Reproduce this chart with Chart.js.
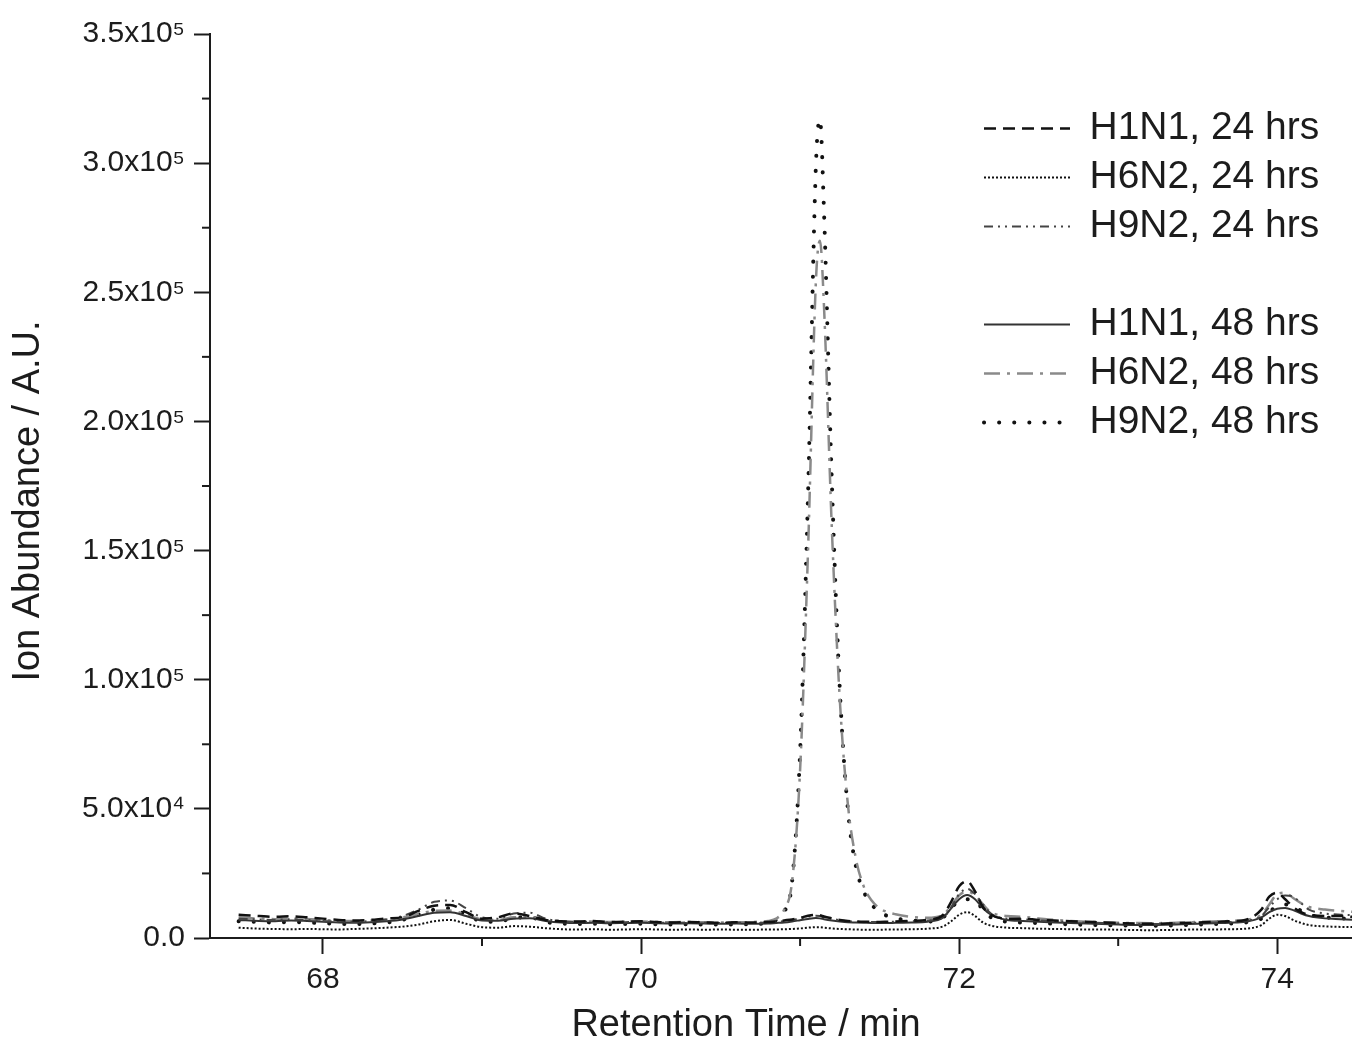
<!DOCTYPE html>
<html>
<head>
<meta charset="utf-8">
<script src="https://cdn.jsdelivr.net/npm/chart.js@4/dist/chart.umd.min.js"></script>
<style>
html,body{margin:0;padding:0;background:#fff;overflow:hidden}
#wrap{width:1352px;height:1046px;position:relative}
</style>
</head>
<body>
<div id="wrap"><canvas id="c" width="1352" height="1046"></canvas></div>
<script>
// Retention time (min)
const retentionTime = [
  67.47,67.6,67.7,67.8,67.9,68.0,68.1,68.2,68.3,68.4,
  68.5,68.6,68.7,68.8,68.9,69.0,69.1,69.2,69.3,69.4,
  69.5,69.6,69.7,69.8,69.9,70.0,70.1,70.2,70.3,70.4,
  70.5,70.6,70.7,70.8,70.85,70.9,70.95,71.0,71.05,71.1,
  71.125,71.15,71.2,71.25,71.3,71.35,71.4,71.45,71.5,71.55,
  71.6,71.7,71.8,71.9,71.95,72.0,72.05,72.1,72.15,72.2,
  72.3,72.4,72.5,72.6,72.7,72.8,72.9,73.0,73.1,73.2,
  73.3,73.4,73.5,73.6,73.7,73.8,73.9,73.95,74.0,74.05,
  74.1,74.15,74.2,74.3,74.4,74.5
];
const h1n1_24 = [
  9000,8500,8200,8400,8000,7500,7000,6800,7000,7600,
  8000,10500,12500,12800,10000,7500,8000,9500,8500,7000,
  6500,6400,6600,6200,6300,6500,6200,6000,6200,6000,
  5900,6100,6000,6200,6400,6800,7200,7800,8600,9000,
  8800,8300,7600,7000,6600,6400,6300,6300,6200,6300,
  6400,6600,7000,9000,14000,20000,22000,18000,12000,9000,
  7500,7500,7000,6800,6500,6300,6000,5800,5600,5500,
  5600,5800,6000,6200,6500,7000,11000,16000,17500,15000,
  12000,10000,9000,8500,8500,8000
];
const h6n2_24 = [
  4000,3600,3500,3400,3500,3400,3300,3500,3700,4000,
  4400,5200,6500,7000,5500,4200,4000,4600,4400,3800,
  3400,3300,3400,3200,3300,3400,3300,3200,3300,3200,
  3300,3200,3200,3300,3300,3400,3500,3700,4000,4200,
  4200,4000,3700,3500,3400,3300,3200,3200,3200,3300,
  3300,3400,3600,4500,6500,9000,10000,8500,6000,4800,
  4000,3800,3600,3500,3400,3300,3300,3200,3100,3000,
  3100,3200,3300,3300,3400,3600,5000,7500,9000,8500,
  7000,5800,5000,4500,4300,4200
];
const h9n2_24 = [
  7500,7200,7000,7300,7000,6600,6400,6300,6600,7200,
  8500,11000,14000,14500,11500,8000,7500,9500,9800,7500,
  6500,6200,6400,6000,6100,6300,6000,5800,6000,5900,
  5800,5900,5800,6000,6200,6500,7000,7500,8200,8600,
  8500,8000,7400,6900,6500,6300,6200,6200,6100,6200,
  6300,6500,6800,8000,12000,17000,19000,17000,13000,9500,
  7500,7200,6800,6500,6200,6000,5800,5600,5500,5400,
  5500,5700,5900,6000,6200,6600,8500,12000,15000,16500,
  16000,13500,11000,9500,9000,8800
];
const h1n1_48 = [
  7000,6600,6500,6800,6600,6300,6000,5900,6100,6500,
  7200,8500,9800,10000,8500,6800,6700,7500,7600,6600,
  6000,5800,5900,5700,5800,5900,5700,5600,5700,5600,
  5500,5600,5500,5600,5800,6000,6400,6900,7400,7700,
  7600,7300,6800,6400,6100,6000,5900,5800,5800,5800,
  5900,6000,6300,8000,11500,15000,16600,15000,11500,9000,
  7000,6600,6300,6000,5800,5600,5400,5200,5000,5000,
  5100,5300,5500,5700,5900,6300,8000,10000,11300,11600,
  10800,9500,8500,7600,7300,7000
];
const h6n2_48 = [
  8000,7500,7300,7600,7400,7000,6700,6600,6800,7200,
  8000,9300,10500,10600,9000,7200,7000,8000,8000,7000,
  6500,6300,6400,6200,6300,6400,6200,6100,6200,6100,
  6000,6100,6200,6600,7500,11000,22000,65000,150000,255000,
  270000,245000,158000,92000,52000,31000,20000,14500,11500,10000,
  9200,8200,7800,9000,12500,16500,18000,16500,13000,10000,
  8500,8200,7600,7000,6600,6300,6100,5900,5800,5700,
  5800,6000,6200,6400,6600,7000,9000,13000,17000,17500,
  15500,13500,12000,11000,10500,10000
];
const h9n2_48 = [
  6500,6200,6000,6200,6000,5700,5500,5400,5600,6000,
  7000,9000,11000,11500,9000,6500,6300,7800,8000,6200,
  5600,5400,5500,5300,5400,5500,5300,5200,5300,5200,
  5200,5300,5400,5800,7000,10000,22000,72000,172000,300000,
  317000,282000,176000,96000,50000,28000,18000,13000,10000,8500,
  7600,6800,6400,8000,11500,14500,15000,14500,11000,8000,
  6300,6000,5800,5500,5300,5100,5000,4900,4800,4700,
  4800,5000,5200,5400,5600,6000,7500,10000,12500,13000,
  12500,10500,9000,8000,7600,7300
];
const seriesLabels = ['H1N1, 24 hrs','H6N2, 24 hrs','H9N2, 24 hrs','H1N1, 48 hrs','H6N2, 48 hrs','H9N2, 48 hrs'];
const yTickValues = [0,50000,100000,150000,200000,250000,300000,350000];
const yTickLabels = ['0.0','5.0x10\u2074','1.0x10\u2075','1.5x10\u2075','2.0x10\u2075','2.5x10\u2075','3.0x10\u2075','3.5x10\u2075'];
const xTickValues = [68,70,72,74];
const xTickLabels = ['68','70','72','74'];
const xTitle = 'Retention Time / min';
const yTitle = 'Ion Abundance / A.U.';

const FONT = "'Liberation Sans', Arial, sans-serif";
const INK = '#1c1c1c';

const seriesValues = [h1n1_24, h6n2_24, h9n2_24, h1n1_48, h6n2_48, h9n2_48];
const seriesStyles = [
  {borderColor:'#111', borderWidth:2.5, borderDash:[12,7], borderCapStyle:'butt'},
  {borderColor:'#111', borderWidth:2, borderDash:[2,2], borderCapStyle:'butt'},
  {borderColor:'#444', borderWidth:2, borderDash:[9,5,2,5,2,5], borderCapStyle:'butt'},
  {borderColor:'#333', borderWidth:2, borderDash:[], borderCapStyle:'butt'},
  {borderColor:'#8a8a8a', borderWidth:2.5, borderDash:[16,7,3,7], borderCapStyle:'butt'},
  {borderColor:'#111', borderWidth:4, borderDash:[0.1,15], borderCapStyle:'round'}
];

const datasets = seriesValues.map((vals, s) => Object.assign({
  label: seriesLabels[s],
  data: retentionTime.map((t, i) => ({x: t, y: vals[i]})),
  pointRadius: 0,
  fill: false,
  cubicInterpolationMode: 'monotone',
  backgroundColor: 'rgba(0,0,0,0)'
}, seriesStyles[s]));

const minorTicks = {
  id: 'minorTicks',
  afterDraw(chart) {
    const {ctx, scales: {x, y}} = chart;
    ctx.save();
    ctx.strokeStyle = INK; ctx.lineWidth = 2; ctx.setLineDash([]);
    x.ticks.forEach(t => {
      if (!xTickValues.includes(t.value)) {
        const px = x.getPixelForValue(t.value);
        ctx.beginPath(); ctx.moveTo(px, x.top); ctx.lineTo(px, x.top + 8); ctx.stroke();
      }
    });
    y.ticks.forEach(t => {
      if (!yTickValues.includes(t.value)) {
        const py = y.getPixelForValue(t.value);
        ctx.beginPath(); ctx.moveTo(y.right, py); ctx.lineTo(y.right - 8, py); ctx.stroke();
      }
    });
    ctx.restore();
  }
};

const axisTitles = {
  id: 'axisTitles',
  afterDraw(chart) {
    const {ctx, chartArea} = chart;
    ctx.save();
    ctx.fillStyle = INK;
    ctx.font = '38px ' + FONT;
    ctx.textAlign = 'center';
    ctx.textBaseline = 'middle';
    ctx.fillText(xTitle, chartArea.left + 536, 1026);
    ctx.translate(29, chartArea.top + 467);
    ctx.rotate(-Math.PI / 2);
    ctx.fillText(yTitle, 0, 0);
    ctx.restore();
  }
};

const legendPlace = {
  id: 'legendPlace',
  afterLayout(chart) {
    const lg = chart.legend;
    if (!lg) return;
    const w = lg.width;
    lg.left = 974; lg.top = 99;
    lg.right = lg.left + w; lg.bottom = chart.chartArea.bottom;
  }
};

new Chart(document.getElementById('c'), {
  type: 'line',
  data: {datasets},
  plugins: [legendPlace, minorTicks, axisTitles],
  options: {
    responsive: false,
    animation: false,
    devicePixelRatio: 1,
    layout: {padding: {top: 34, right: 0, left: 0, bottom: 0}},
    plugins: {
      tooltip: {enabled: false},
      legend: {
        position: 'chartArea',
        align: 'start',
        labels: {
          usePointStyle: true,
          pointStyle: 'line',
          pointStyleWidth: 86,
          padding: 10,
          color: INK,
          font: {family: FONT, size: 39},
          generateLabels(chart) {
            const items = chart.data.datasets.map((ds, i) => ({
              text: ds.label,
              strokeStyle: ds.borderColor,
              fillStyle: 'rgba(0,0,0,0)',
              lineWidth: ds.borderWidth,
              lineDash: ds.borderDash || [],
              lineCap: ds.borderCapStyle || 'butt',
              pointStyle: 'line',
              hidden: false,
              fontColor: INK,
              datasetIndex: i
            }));
            items.splice(3, 0, {text: '', strokeStyle: 'rgba(0,0,0,0)', fillStyle: 'rgba(0,0,0,0)', lineWidth: 0, pointStyle: 'line', hidden: false, fontColor: INK, datasetIndex: -1});
            return items;
          }
        }
      }
    },
    scales: {
      x: {
        type: 'linear',
        min: 67.29,
        max: 74.47,
        afterFit: s => { s.height = 108; },
        border: {display: true, color: INK, width: 2},
        grid: {
          display: true, drawOnChartArea: false, drawTicks: true, tickLength: 16, tickWidth: 2,
          tickColor: c => (c.tick && xTickValues.includes(c.tick.value)) ? INK : 'rgba(0,0,0,0)'
        },
        ticks: {
          stepSize: 1, autoSkip: false, includeBounds: false, maxRotation: 0, padding: 8,
          maxTicksLimit: 100,
          color: INK, font: {family: FONT, size: 30},
          callback: v => { const i = xTickValues.indexOf(v); return i >= 0 ? xTickLabels[i] : ''; }
        }
      },
      y: {
        type: 'linear',
        min: 0,
        max: 350000,
        afterFit: s => { s.width = 210; },
        border: {display: true, color: INK, width: 2},
        grid: {
          display: true, drawOnChartArea: false, drawTicks: true, tickLength: 16, tickWidth: 2,
          tickColor: c => (c.tick && yTickValues.includes(c.tick.value)) ? INK : 'rgba(0,0,0,0)'
        },
        ticks: {
          stepSize: 25000, autoSkip: false, includeBounds: false, padding: 9,
          maxTicksLimit: 100,
          color: INK, font: {family: FONT, size: 30},
          callback: v => { const i = yTickValues.indexOf(v); return i >= 0 ? yTickLabels[i] : ''; }
        }
      }
    }
  }
});
</script>
</body>
</html>
